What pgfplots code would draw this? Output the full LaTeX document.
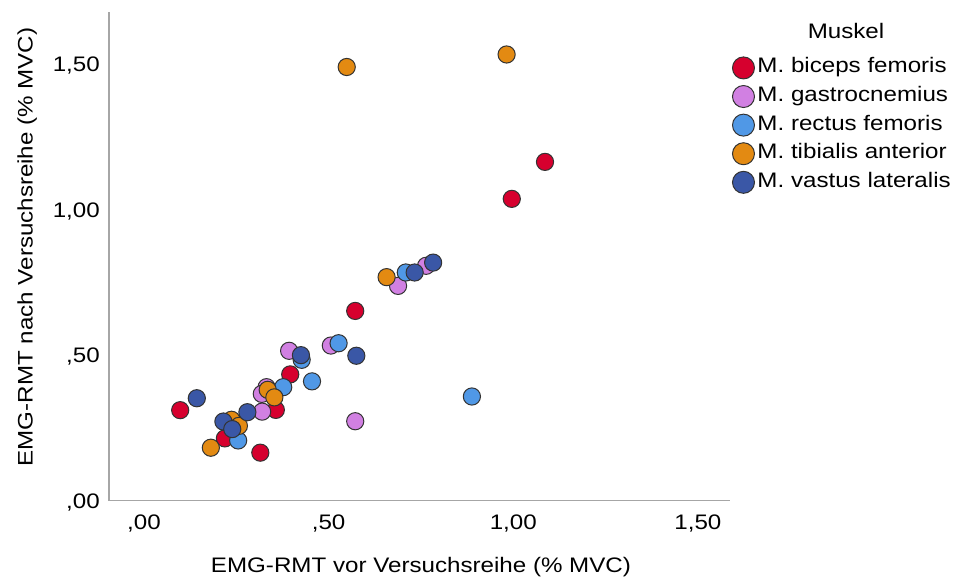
\documentclass[border=0pt]{standalone}
\usepackage{fontspec}
\setmainfont{Liberation Sans}[FakeStretch=1.15]
\usepackage{pgfplots}
\pgfplotsset{compat=1.18}
\definecolor{cRed}{RGB}{214,0,46}
\definecolor{cPurple}{RGB}{209,128,226}
\definecolor{cLBlue}{RGB}{80,152,230}
\definecolor{cOrange}{RGB}{227,138,18}
\definecolor{cDBlue}{RGB}{58,87,166}
\begin{document}
\begin{tikzpicture}[font=\fontsize{21bp}{25bp}\selectfont]
\path[use as bounding box] (0,0) rectangle (962bp,578bp);
\begin{axis}[
  at={(109bp,77.3bp)}, anchor=south west,
  scale only axis, width=621bp, height=489bp,
  xmin=-0.0948, xmax=1.587, ymin=0, ymax=1.680,
  axis x line*=bottom, axis y line*=left,
  axis line style={draw=gray!70, line width=1.3bp, -},
  major tick length=0pt,
  xtick={0,0.5,1,1.5}, xticklabels={{,00},{,50},{1,00},{1,50}},
  ytick={0,0.5,1,1.5}, yticklabels={{,00},{,50},{1,00},{1,50}},
  /pgf/number format/assume math mode=true,
  xticklabel style={anchor=base, yshift=-29bp, inner sep=0pt},
  yticklabel style={anchor=base east, xshift=-9bp, yshift=-7.5bp, inner sep=0pt},
  xlabel={EMG-RMT vor Versuchsreihe (\% MVC)},
  ylabel={EMG-RMT nach Versuchsreihe (\% MVC)},
  xlabel style={at={(axis description cs:0.5024,-0.1478)}, anchor=base, inner sep=0pt},
  ylabel style={at={(axis description cs:-0.1230,0.519)}, anchor=base, inner sep=0pt},
  clip=false,
  legend style={at={(axis description cs:1.004,0.9075)}, anchor=north west,
    draw=none, fill=none, inner sep=0pt, outer sep=0pt,
    row sep=6.6bp, column sep=3bp, nodes={inner sep=0pt, anchor=base west}},
  legend image code/.code={\draw[#1, mark size=11bp] plot coordinates {(0bp,5bp)};},
  every axis plot/.append style={only marks, mark=*, mark size=8.6bp},
]
\addplot[mark options={fill=cRed, draw=black!80, line width=1bp}] table {
x y
0.098 0.311
0.219 0.214
0.315 0.165
0.357 0.312
0.396 0.434
0.572 0.652
0.996 1.037
1.086 1.164
};
\addlegendentry{M. biceps femoris}
\addplot[mark options={fill=cPurple, draw=black!80, line width=1bp}] table {
x y
0.393 0.515
0.506 0.533
0.332 0.390
0.319 0.367
0.320 0.306
0.572 0.273
0.688 0.738
0.764 0.807
};
\addlegendentry{M. gastrocnemius}
\addplot[mark options={fill=cLBlue, draw=black!80, line width=1bp}] table {
x y
0.427 0.484
0.527 0.541
0.455 0.410
0.377 0.390
0.255 0.207
0.709 0.784
0.888 0.358
};
\addlegendentry{M. rectus femoris}
\addplot[mark options={fill=cOrange, draw=black!80, line width=1bp}] table {
x y
0.335 0.381
0.353 0.355
0.237 0.278
0.257 0.257
0.181 0.182
0.657 0.768
0.549 1.490
0.982 1.533
};
\addlegendentry{M. tibialis anterior}
\addplot[mark options={fill=cDBlue, draw=black!80, line width=1bp}] table {
x y
0.425 0.500
0.575 0.498
0.143 0.352
0.280 0.304
0.215 0.272
0.239 0.246
0.733 0.784
0.783 0.818
};
\addlegendentry{M. vastus lateralis}
\node[anchor=base, inner sep=0pt] at (axis description cs:1.1868,0.9446) {Muskel};
\end{axis}
\end{tikzpicture}
\end{document}
